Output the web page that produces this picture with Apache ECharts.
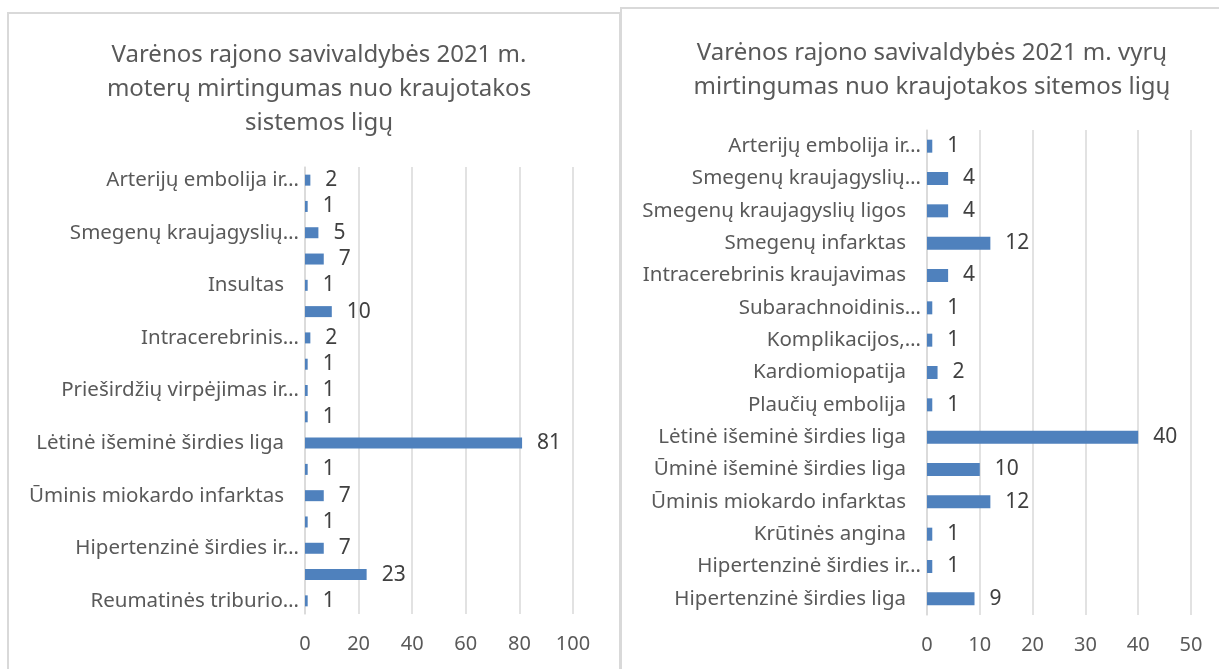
<!DOCTYPE html>
<html>
<head>
<meta charset="utf-8">
<title>Varėnos rajono savivaldybės 2021 m. mirtingumas</title>
<script src="https://cdn.jsdelivr.net/npm/echarts@6/dist/echarts.min.js"></script>
<style>
 html,body{margin:0;padding:0;background:#fff;}
 #chart{width:1219px;height:669px;}
</style>
</head>
<body>
<div id="chart"></div>
<script>
// moterys (kairė diagrama), iš viršaus į apačią
var womenCategories = [
	'Arterijų embolija ir…',
	'Aterosklerozė',
	'Smegenų kraujagyslių…',
	'Smegenų kraujagyslių ligos',
	'Insultas',
	'Smegenų infarktas',
	'Intracerebrinis…',
	'Subarachnoidinis kraujavimas',
	'Prieširdžių virpėjimas ir…',
	'Kardiomiopatija',
	'Lėtinė išeminė širdies liga',
	'Ūminė išeminė širdies liga',
	'Ūminis miokardo infarktas',
	'Krūtinės angina',
	'Hipertenzinė širdies ir…',
	'Hipertenzinė širdies liga',
	'Reumatinės triburio…'
];
var womenValues = [2, 1, 5, 7, 1, 10, 2, 1, 1, 1, 81, 1, 7, 1, 7, 23, 1];
var womenTicks = [0, 20, 40, 60, 80, 100];

// vyrai (dešinė diagrama)
var menCategories = [
	'Arterijų embolija ir…',
	'Smegenų kraujagyslių…',
	'Smegenų kraujagyslių ligos',
	'Smegenų infarktas',
	'Intracerebrinis kraujavimas',
	'Subarachnoidinis…',
	'Komplikacijos,…',
	'Kardiomiopatija',
	'Plaučių embolija',
	'Lėtinė išeminė širdies liga',
	'Ūminė išeminė širdies liga',
	'Ūminis miokardo infarktas',
	'Krūtinės angina',
	'Hipertenzinė širdies ir…',
	'Hipertenzinė širdies liga'
];
var menValues = [1, 4, 4, 12, 4, 1, 1, 2, 1, 40, 10, 12, 1, 1, 9];
var menTicks = [0, 10, 20, 30, 40, 50];

var font = '"Noto Sans", sans-serif';
var gray = '#595959';
var barColor = '#4f81bd';

function catLabel(v){
	// Excel rodo sutrumpintus pavadinimus arčiau ašies
	if(v.slice(-1) == '…'){
		return '{t|' + v + '}';
	}
	return '{f|' + v + '}';
}
var labelRich = {
	t: {fontFamily: font, fontSize: 20.5, color: gray},
	f: {fontFamily: font, fontSize: 20.5, color: gray, padding: [0, 15, 0, 0]}
};

function valueAxis(idx, ticks){
	return {
		type: 'value',
		gridIndex: idx,
		min: ticks[0],
		max: ticks[ticks.length - 1],
		interval: ticks[1] - ticks[0],
		axisLine: {show: false},
		axisTick: {show: false},
		splitLine: {lineStyle: {color: '#d9d9d9', width: 1.5}},
		axisLabel: {fontFamily: font, fontSize: 20, color: gray, margin: 20}
	};
}
function catAxis(idx, cats, interval){
	return {
		type: 'category',
		gridIndex: idx,
		inverse: true,
		data: cats,
		axisLine: {lineStyle: {color: '#d9d9d9', width: 1.5}},
		axisTick: {show: false},
		axisLabel: {interval: interval, margin: 6, formatter: catLabel, rich: labelRich}
	};
}
function barSeries(idx, values, width){
	return {
		type: 'bar',
		xAxisIndex: idx,
		yAxisIndex: idx,
		data: values,
		barWidth: width,
		itemStyle: {color: barColor},
		label: {show: true, position: 'right', distance: 15, fontFamily: font, fontSize: 21, color: '#404040'},
		silent: true
	};
}

var myChart = echarts.init(document.getElementById('chart'));
var titleStyle = {fontFamily: font, fontSize: 24, lineHeight: 34, fontWeight: 'normal', color: gray};
var option = {
	animation: false,
	backgroundColor: '#fff',
	title: [
		{
			text: 'Varėnos rajono savivaldybės 2021 m.\nmoterų mirtingumas nuo kraujotakos\nsistemos ligų',
			left: 314, top: 33, textAlign: 'center', textStyle: titleStyle
		},
		{
			text: 'Varėnos rajono savivaldybės 2021 m. vyrų\nmirtingumas nuo kraujotakos sitemos ligų',
			left: 927, top: 31, textAlign: 'center', textStyle: titleStyle
		}
	],
	graphic: [
		{type: 'rect', shape: {x: 8, y: 13, width: 612, height: 700}, style: {fill: 'none', stroke: '#d9d9d9', lineWidth: 2}, silent: true},
		{type: 'rect', shape: {x: 621, y: 8, width: 650, height: 700}, style: {fill: 'none', stroke: '#d9d9d9', lineWidth: 2}, silent: true}
	],
	grid: [
		{left: 305, top: 167, width: 268, height: 447},
		{left: 927, top: 130, width: 264, height: 485}
	],
	xAxis: [valueAxis(0, womenTicks), valueAxis(1, menTicks)],
	yAxis: [catAxis(0, womenCategories, 1), catAxis(1, menCategories, 0)],
	series: [barSeries(0, womenValues, 11), barSeries(1, menValues, 13)]
};
myChart.setOption(option);
</script>
</body>
</html>
